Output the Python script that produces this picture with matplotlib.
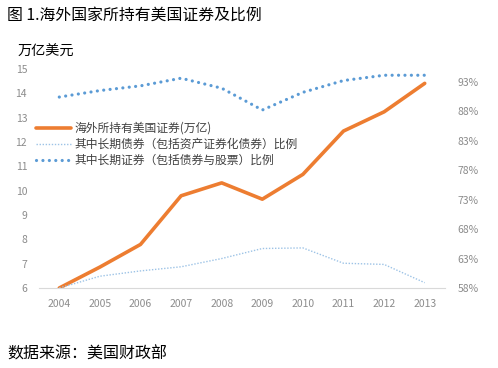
import matplotlib
matplotlib.use("Agg")
import matplotlib.pyplot as plt
from matplotlib.ticker import FuncFormatter

plt.rcParams['font.family'] = ['Noto Sans CJK SC', 'DejaVu Sans']

years = ['2004', '2005', '2006', '2007', '2008', '2009', '2010', '2011', '2012', '2013']
# 海外所持有美国证券(万亿)
holdings = [6.0, 6.86, 7.79, 9.79, 10.32, 9.65, 10.67, 12.45, 13.24, 14.41]
# 其中长期债券（包括资产证券化债券）比例
lt_bonds = [0.580, 0.600, 0.609, 0.616, 0.630, 0.647, 0.648, 0.622, 0.620, 0.589]
# 其中长期证券（包括债券与股票）比例
lt_secs = [0.904, 0.915, 0.923, 0.936, 0.919, 0.882, 0.912, 0.932, 0.941, 0.941]

fig = plt.figure(figsize=(4.98, 3.68), dpi=100)
ax = fig.add_axes([0.0783, 0.2174, 0.8153, 0.5951])
ax2 = ax.twinx()

x = range(len(years))
l1, = ax.plot(x, holdings, color='#ED7D31', lw=2.6, solid_capstyle='round',
              label='海外所持有美国证券(万亿)', zorder=3)
l2, = ax2.plot(x, lt_bonds, color='#9DC3E6', lw=1.0, ls=(0, (1, 1.2)),
               label='其中长期债券（包括资产证券化债券）比例')
l3, = ax2.plot(x, lt_secs, color='#5B9BD5', lw=2.3, ls=(0, (0.01, 2.0)),
               dash_capstyle='round', label='其中长期证券（包括债券与股票）比例')

ax.set_xlim(-0.5, len(years) - 0.5)
ax.set_ylim(6, 15)
ax.set_yticks(range(6, 16))
ax.set_xticks(list(x))
ax.set_xticklabels(years)

ax2.set_ylim(0.58, 0.9516)
ax2.set_yticks([0.58 + 0.05 * i for i in range(8)])
ax2.yaxis.set_major_formatter(FuncFormatter(lambda v, p: '%d%%' % round(v * 100)))

for a in (ax, ax2):
    for s in a.spines.values():
        s.set_visible(False)
    a.tick_params(length=0, labelsize=7.5, colors='#8C8C8C', pad=6)
ax.spines['bottom'].set_visible(True)
ax.spines['bottom'].set_color('#D9D9D9')
ax.tick_params(axis='x', pad=8)
ax.tick_params(axis='y', pad=8.5)
ax2.tick_params(axis='y', pad=9)

leg = ax.legend(handles=[l1, l2, l3], loc='upper left', bbox_to_anchor=(-0.02, 0.78),
                frameon=False, fontsize=8.5, handlelength=3.0, handletextpad=0.3,
                labelspacing=0.25, borderaxespad=0)
for t in leg.get_texts():
    t.set_color('#404040')

fig.text(0.014, 0.96, '图 1.海外国家所持有美国证券及比例', fontsize=11.4, va='center', ha='left')
fig.text(0.036, 0.858, '万亿美元', fontsize=10.2, va='center', ha='left')
fig.text(0.014, 0.038, '数据来源：美国财政部', fontsize=11.5, va='center', ha='left')

fig.savefig('out.png', dpi=100)
